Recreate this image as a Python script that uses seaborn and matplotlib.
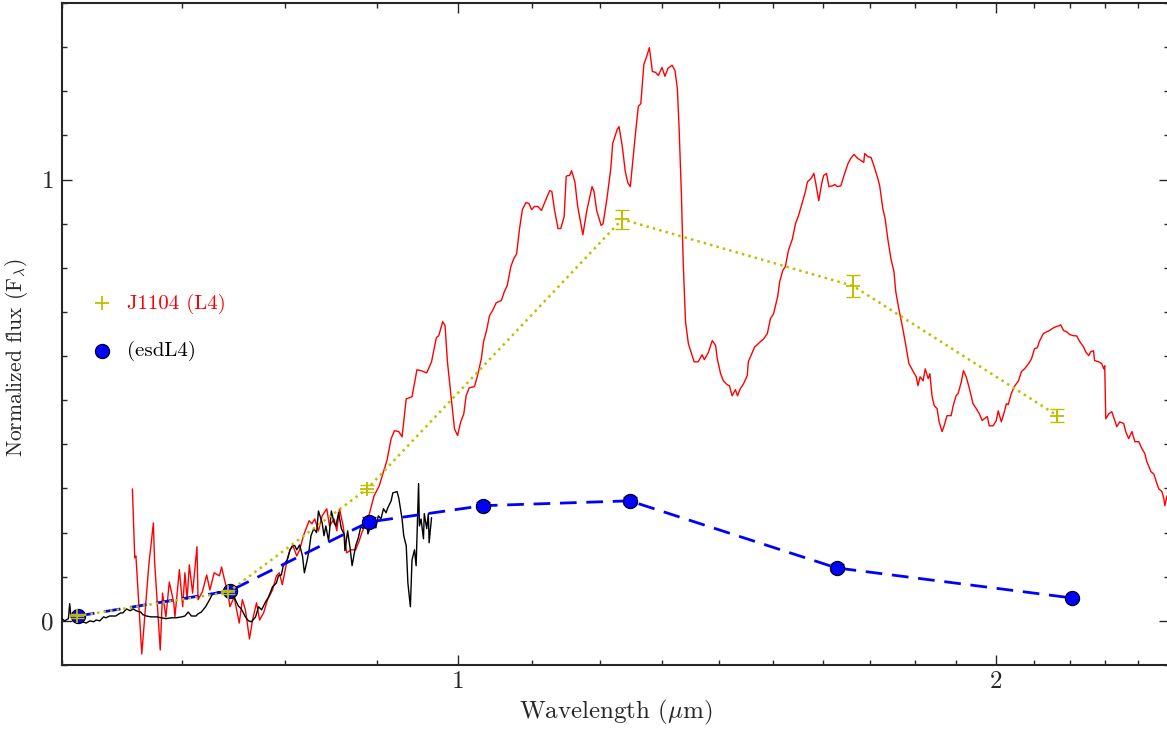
import matplotlib
matplotlib.use("Agg")
import matplotlib.pyplot as plt
import seaborn as sns
from matplotlib.ticker import FixedLocator, FixedFormatter, MultipleLocator, NullFormatter

# L4 template spectrum (red)
red_wave = [
    0.657, 0.659, 0.660, 0.665, 0.671, 0.675, 0.676, 0.681, 0.683, 0.686,
    0.689, 0.693, 0.694, 0.698, 0.701, 0.703, 0.705, 0.707, 0.710, 0.714,
    0.715, 0.719, 0.723, 0.726, 0.730, 0.735, 0.737, 0.740, 0.743, 0.745,
    0.749, 0.754, 0.757, 0.760, 0.764, 0.767, 0.771, 0.774, 0.778, 0.782,
    0.787, 0.791, 0.794, 0.797, 0.802, 0.805, 0.808, 0.812, 0.815, 0.819,
    0.825, 0.828, 0.831, 0.835, 0.839, 0.844, 0.847, 0.852, 0.855, 0.858,
    0.862, 0.866, 0.871, 0.876, 0.880, 0.883, 0.888, 0.891, 0.897, 0.903,
    0.908, 0.912, 0.917, 0.921, 0.926, 0.930, 0.935, 0.942, 0.948, 0.953,
    0.960, 0.966, 0.972, 0.975, 0.980, 0.983, 0.986, 0.991, 0.995, 0.999,
    1.003, 1.007, 1.010, 1.014, 1.021, 1.025, 1.030, 1.033, 1.037, 1.041,
    1.045, 1.050, 1.057, 1.061, 1.065, 1.070, 1.074, 1.078, 1.082, 1.086,
    1.091, 1.095, 1.099, 1.103, 1.108, 1.113, 1.121, 1.125, 1.128, 1.132,
    1.137, 1.141, 1.146, 1.149, 1.151, 1.154, 1.157, 1.162, 1.166, 1.174,
    1.180, 1.188, 1.191, 1.195, 1.202, 1.205, 1.211, 1.217, 1.220, 1.227,
    1.230, 1.235, 1.240, 1.244, 1.248, 1.252, 1.256, 1.261, 1.265, 1.270,
    1.275, 1.279, 1.284, 1.289, 1.294, 1.300, 1.305, 1.310, 1.317, 1.322,
    1.326, 1.329, 1.333, 1.336, 1.340, 1.345, 1.352, 1.355, 1.362, 1.369,
    1.373, 1.380, 1.387, 1.393, 1.396, 1.402, 1.407, 1.414, 1.418, 1.423,
    1.429, 1.433, 1.438, 1.444, 1.451, 1.453, 1.461, 1.465, 1.470, 1.476,
    1.482, 1.489, 1.495, 1.501, 1.509, 1.513, 1.519, 1.524, 1.530, 1.538,
    1.544, 1.550, 1.558, 1.564, 1.568, 1.575, 1.581, 1.585, 1.591, 1.597,
    1.601, 1.607, 1.612, 1.620, 1.624, 1.630, 1.637, 1.643, 1.652, 1.658,
    1.665, 1.673, 1.680, 1.686, 1.688, 1.695, 1.702, 1.708, 1.717, 1.721,
    1.728, 1.733, 1.739, 1.746, 1.753, 1.757, 1.764, 1.773, 1.780, 1.787,
    1.797, 1.804, 1.808, 1.813, 1.820, 1.825, 1.832, 1.836, 1.841, 1.846,
    1.853, 1.858, 1.865, 1.870, 1.877, 1.887, 1.892, 1.899, 1.904, 1.912,
    1.917, 1.924, 1.932, 1.941, 1.949, 1.957, 1.964, 1.969, 1.977, 1.982,
    1.992, 2.000, 2.005, 2.013, 2.021, 2.026, 2.031, 2.039, 2.047, 2.058,
    2.066, 2.074, 2.085, 2.093, 2.101, 2.109, 2.114, 2.125, 2.134, 2.142,
    2.153, 2.161, 2.170, 2.173, 2.181, 2.190, 2.198, 2.210, 2.218, 2.227,
    2.238, 2.244, 2.253, 2.259, 2.267, 2.270, 2.282, 2.291, 2.297, 2.300,
    2.303, 2.312, 2.321, 2.330, 2.336, 2.345, 2.357, 2.363, 2.372, 2.382,
    2.391, 2.403, 2.413, 2.422, 2.428, 2.434, 2.441, 2.450, 2.460, 2.466,
    2.476, 2.482, 2.485, 2.492, 2.498,
]
red_flux = [
    0.299, 0.143, 0.147, -0.075, 0.125, 0.222, 0.138, -0.066, 0.063, 0.009,
    0.088, 0.041, 0.009, 0.116, 0.032, 0.109, 0.048, 0.127, 0.063, 0.168,
    0.048, 0.066, 0.104, 0.070, 0.109, 0.102, 0.122, 0.091, 0.063, 0.032,
    0.054, -0.005, 0.048, 0.025, -0.041, 0.002, 0.041, 0.002, 0.018, 0.048,
    0.070, 0.102, 0.109, 0.082, 0.138, 0.161, 0.170, 0.147, 0.161, 0.193,
    0.227, 0.220, 0.231, 0.204, 0.238, 0.254, 0.215, 0.231, 0.204, 0.254,
    0.215, 0.154, 0.161, 0.161, 0.181, 0.200, 0.220, 0.238, 0.283, 0.306,
    0.338, 0.363, 0.413, 0.431, 0.429, 0.417, 0.503, 0.508, 0.569, 0.567,
    0.562, 0.587, 0.642, 0.646, 0.678, 0.669, 0.587, 0.503, 0.435, 0.420,
    0.451, 0.469, 0.510, 0.528, 0.531, 0.556, 0.594, 0.633, 0.658, 0.692,
    0.703, 0.721, 0.726, 0.746, 0.760, 0.803, 0.821, 0.832, 0.889, 0.932,
    0.948, 0.946, 0.932, 0.939, 0.939, 0.930, 0.961, 0.975, 0.973, 0.930,
    0.889, 0.889, 0.916, 1.007, 1.009, 1.009, 1.020, 0.995, 0.941, 0.875,
    0.930, 0.984, 0.973, 0.930, 0.896, 0.900, 0.957, 1.025, 1.082, 1.113,
    1.120, 1.077, 1.018, 0.993, 0.984, 1.041, 1.100, 1.166, 1.172, 1.261,
    1.281, 1.299, 1.245, 1.243, 1.236, 1.254, 1.234, 1.252, 1.259, 1.247,
    1.206, 1.116, 0.964, 0.814, 0.678, 0.628, 0.599, 0.587, 0.587, 0.603,
    0.592, 0.608, 0.635, 0.624, 0.594, 0.560, 0.544, 0.535, 0.533, 0.510,
    0.524, 0.510, 0.526, 0.537, 0.556, 0.587, 0.610, 0.621, 0.626, 0.633,
    0.639, 0.651, 0.685, 0.696, 0.735, 0.769, 0.794, 0.803, 0.839, 0.866,
    0.900, 0.918, 0.950, 0.973, 0.995, 1.002, 1.014, 0.991, 0.952, 0.991,
    1.009, 1.014, 0.984, 0.986, 0.989, 0.984, 0.986, 1.007, 1.036, 1.048,
    1.057, 1.048, 1.043, 1.039, 1.059, 1.052, 1.050, 1.032, 1.002, 0.986,
    0.934, 0.912, 0.866, 0.821, 0.791, 0.746, 0.707, 0.662, 0.624, 0.583,
    0.565, 0.553, 0.533, 0.553, 0.544, 0.571, 0.549, 0.560, 0.510, 0.488,
    0.481, 0.451, 0.429, 0.442, 0.465, 0.465, 0.488, 0.510, 0.515, 0.542,
    0.567, 0.553, 0.526, 0.492, 0.481, 0.469, 0.454, 0.458, 0.463, 0.442,
    0.442, 0.454, 0.476, 0.451, 0.474, 0.492, 0.490, 0.515, 0.531, 0.544,
    0.565, 0.571, 0.583, 0.594, 0.617, 0.619, 0.633, 0.651, 0.655, 0.658,
    0.664, 0.667, 0.669, 0.671, 0.658, 0.655, 0.649, 0.646, 0.646, 0.633,
    0.621, 0.610, 0.601, 0.610, 0.612, 0.590, 0.587, 0.583, 0.571, 0.578,
    0.458, 0.469, 0.474, 0.454, 0.440, 0.451, 0.447, 0.429, 0.413, 0.429,
    0.406, 0.406, 0.390, 0.379, 0.361, 0.351, 0.338, 0.333, 0.311, 0.299,
    0.293, 0.277, 0.261, 0.283, 0.254,
]

# optical spectrum (black)
black_wave = [
    0.600, 0.602, 0.605, 0.606, 0.607, 0.610, 0.613, 0.616, 0.619, 0.622,
    0.625, 0.627, 0.630, 0.633, 0.635, 0.638, 0.641, 0.643, 0.647, 0.649,
    0.652, 0.655, 0.658, 0.660, 0.664, 0.666, 0.669, 0.673, 0.678, 0.682,
    0.686, 0.691, 0.695, 0.700, 0.703, 0.706, 0.709, 0.713, 0.715, 0.718,
    0.722, 0.725, 0.728, 0.731, 0.734, 0.737, 0.741, 0.744, 0.749, 0.753,
    0.756, 0.760, 0.763, 0.766, 0.770, 0.773, 0.776, 0.780, 0.783, 0.787,
    0.791, 0.793, 0.796, 0.798, 0.802, 0.805, 0.808, 0.810, 0.812, 0.815,
    0.818, 0.820, 0.823, 0.825, 0.827, 0.830, 0.833, 0.835, 0.839, 0.841,
    0.843, 0.846, 0.849, 0.852, 0.854, 0.857, 0.860, 0.863, 0.864, 0.867,
    0.870, 0.872, 0.876, 0.879, 0.882, 0.884, 0.888, 0.890, 0.894, 0.896,
    0.899, 0.902, 0.905, 0.908, 0.911, 0.913, 0.917, 0.919, 0.924, 0.926,
    0.930, 0.932, 0.935, 0.937, 0.940, 0.942, 0.945, 0.947, 0.950, 0.951,
    0.953, 0.956, 0.957, 0.960, 0.962, 0.963, 0.966,
]
black_flux = [
    0.005, 0.000, 0.005, 0.039, 0.009, 0.000, -0.002, -0.002, -0.005, 0.000,
    -0.002, 0.002, 0.000, 0.009, 0.007, 0.011, 0.011, 0.011, 0.018, 0.018,
    0.027, 0.023, 0.027, 0.023, 0.020, 0.014, 0.011, 0.009, 0.009, 0.007,
    0.005, 0.007, 0.007, 0.009, 0.011, 0.020, 0.011, 0.011, 0.016, 0.020,
    0.032, 0.045, 0.059, 0.063, 0.066, 0.066, 0.066, 0.061, 0.054, 0.034,
    0.027, 0.009, 0.000, -0.002, 0.009, 0.032, 0.025, 0.043, 0.054, 0.077,
    0.086, 0.102, 0.104, 0.125, 0.138, 0.161, 0.172, 0.170, 0.161, 0.172,
    0.147, 0.109, 0.138, 0.161, 0.193, 0.209, 0.200, 0.249, 0.222, 0.193,
    0.215, 0.181, 0.249, 0.222, 0.215, 0.245, 0.209, 0.197, 0.159, 0.204,
    0.161, 0.125, 0.170, 0.188, 0.215, 0.209, 0.231, 0.197, 0.220, 0.234,
    0.211, 0.238, 0.231, 0.254, 0.245, 0.256, 0.272, 0.290, 0.293, 0.279,
    0.231, 0.193, 0.170, 0.086, 0.032, 0.138, 0.161, 0.125, 0.311, 0.215,
    0.231, 0.186, 0.243, 0.209, 0.243, 0.177, 0.234,
]

# photometry
j1104_wave = [0.612, 0.743, 0.889, 1.235, 1.663, 2.164]
j1104_flux = [0.011, 0.065, 0.299, 0.910, 0.759, 0.465]
j1104_err = [0.004, 0.004, 0.008, 0.022, 0.024, 0.014]

esd_wave = [0.6125, 0.745, 0.891, 1.032, 1.247, 1.628, 2.204]
esd_flux = [0.011, 0.068, 0.224, 0.261, 0.272, 0.120, 0.052]
esd_err = [0.004, 0.005, 0.012, 0.008, 0.008, 0.008, 0.005]

sns.set_style("ticks")
plt.rcParams['font.family'] = ['cmr10', 'DejaVu Serif']
plt.rcParams['mathtext.fontset'] = 'cm'
plt.rcParams['axes.formatter.use_mathtext'] = True
plt.rcParams['axes.unicode_minus'] = False

fig = plt.figure(figsize=(11.67, 7.29), dpi=100)
ax = fig.add_axes([0.0531, 0.0878, 0.949, 0.908])

sns.lineplot(x=red_wave, y=red_flux, sort=False, estimator=None, color='r', lw=1.0, ax=ax, zorder=2)
sns.lineplot(x=black_wave, y=black_flux, sort=False, estimator=None, color='k', lw=1.0, ax=ax, zorder=3)

sns.lineplot(x=esd_wave, y=esd_flux, sort=False, estimator=None, color='b', lw=2.0,
             dashes=False, ax=ax, zorder=4).lines[-1].set_linestyle((0, (6, 3.5)))
ax.errorbar(esd_wave, esd_flux, yerr=esd_err, fmt='none', ecolor='b', elinewidth=1.2, capsize=5, zorder=4)
sns.scatterplot(x=esd_wave, y=esd_flux, marker='o', color='b', edgecolor='k', linewidth=0.8,
                s=105, ax=ax, zorder=5, label='(esdL4)')

sns.lineplot(x=j1104_wave, y=j1104_flux, sort=False, estimator=None, color='y', lw=1.8,
             ax=ax, zorder=6).lines[-1].set_linestyle(':')
ax.errorbar(j1104_wave, j1104_flux, yerr=j1104_err, fmt='none', ecolor='y', elinewidth=1.5, capsize=5, zorder=6)
sns.scatterplot(x=j1104_wave, y=j1104_flux, marker='+', color='y', edgecolor='y', linewidth=1.3,
                s=110, ax=ax, zorder=7, label='J1104 (L4)')

ax.set_xscale('log')
ax.set_xlim(0.6, 2.5)
ax.set_ylim(-0.1, 1.4)
ax.xaxis.set_major_locator(FixedLocator([1, 2]))
ax.xaxis.set_major_formatter(FixedFormatter(['1', '2']))
ax.xaxis.set_minor_locator(MultipleLocator(0.1))
ax.xaxis.set_minor_formatter(NullFormatter())
ax.yaxis.set_major_locator(MultipleLocator(1))
ax.yaxis.set_minor_locator(MultipleLocator(0.1))
ax.tick_params(which='both', direction='in', top=True, right=True, labelsize=18, width=1)
ax.tick_params(which='major', length=7)
ax.tick_params(which='minor', length=3.5)
ax.tick_params(axis='y', which='major', pad=6)
ax.tick_params(axis='x', which='major', pad=4.5)
for sp in ax.spines.values():
    sp.set_linewidth(1.5)

ax.set_xlabel(r'Wavelength ($\mu$m)', fontsize=18, labelpad=3)
ax.set_ylabel(r'Normalized flux ($\mathrm{F}_\lambda$)', fontsize=15.5)
ax.yaxis.set_label_coords(-0.029, 0.465)

handles, labels = ax.get_legend_handles_labels()
order = [labels.index('J1104 (L4)'), labels.index('(esdL4)')]
leg = ax.legend([handles[i] for i in order], [labels[i] for i in order], loc='center left',
                bbox_to_anchor=(0.0, 0.51), frameon=False, fontsize=15, scatterpoints=1,
                labelspacing=1.3, handletextpad=0.2)
leg.get_texts()[0].set_color('r')
leg.get_texts()[1].set_color('k')

fig.savefig('out.png', dpi=100)
